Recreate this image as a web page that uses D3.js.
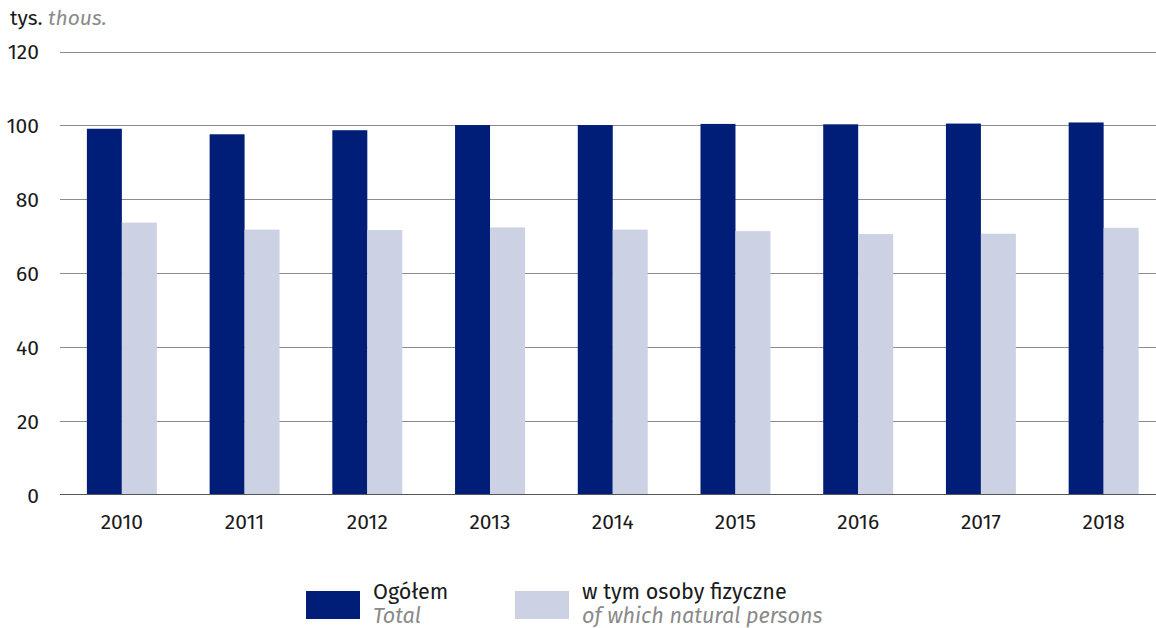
<!DOCTYPE html>
<html><head><meta charset="utf-8">
<script src="https://cdn.jsdelivr.net/npm/d3@7"></script>
<style>
body{margin:0;background:#fff;}
text{font-family:"Fira Sans","Open Sans","Noto Sans",sans-serif;}
</style></head>
<body><svg id="c" width="1156" height="628"></svg>
<script>
const years = ["2010","2011","2012","2013","2014","2015","2016","2017","2018"];
const total = [99.1,97.6,98.7,100.1,100.1,100.4,100.3,100.5,100.8];
const natural = [73.7,71.8,71.7,72.4,71.8,71.4,70.6,70.7,72.3];
const yTicks = [0,20,40,60,80,100,120];
const seriesNames = [["Ogółem","Total"],["w tym osoby fizyczne","of which natural persons"]];
const colors = ["#001d77","#ccd1e4"];
const FS = 21;

const svg = d3.select("#c");
const x = d3.scaleBand().domain(years).range([60.5,1165]).paddingInner(0.43).paddingOuter(0.215);
const y = d3.scaleLinear().domain([0,120]).range([495,51.5]);

svg.append("g").selectAll("line").data(yTicks.filter(d=>d>0)).join("line")
  .attr("x1",60).attr("x2",1156).attr("y1",d=>Math.round(y(d))+0.5).attr("y2",d=>Math.round(y(d))+0.5)
  .attr("stroke","#8c8c8c").attr("stroke-width",1);

svg.append("g").selectAll("text").data(yTicks).join("text")
  .attr("x",39).attr("y",d=>y(d)+7.5).attr("text-anchor","end")
  .attr("font-size",FS).attr("fill","#1a1a1a").text(d=>d);

const bw = x.bandwidth()/2;
const g = svg.append("g");
g.selectAll(".t").data(years).join("rect")
  .attr("x",d=>x(d)).attr("width",bw)
  .attr("y",(d,i)=>y(total[i])).attr("height",(d,i)=>y(0)-y(total[i]))
  .attr("fill",colors[0]);
g.selectAll(".n").data(years).join("rect")
  .attr("x",d=>x(d)+bw).attr("width",bw)
  .attr("y",(d,i)=>y(natural[i])).attr("height",(d,i)=>y(0)-y(natural[i]))
  .attr("fill",colors[1]);

svg.append("line").attr("x1",60).attr("x2",1156).attr("y1",494.5).attr("y2",494.5)
  .attr("stroke","#555").attr("stroke-width",1.2);

svg.append("g").selectAll("text").data(years).join("text")
  .attr("x",d=>x(d)+x.bandwidth()/2).attr("y",529).attr("text-anchor","middle")
  .attr("font-size",FS).attr("fill","#1a1a1a").text(d=>d);

const title = svg.append("text").attr("x",10).attr("y",25).attr("font-size",FS);
title.append("tspan").attr("fill","#1a1a1a").text("tys. ");
title.append("tspan").attr("fill","#8a8a8a").attr("font-style","italic").text("thous.");

const legX = [306,515];
seriesNames.forEach((s,i)=>{
  svg.append("rect").attr("x",legX[i]).attr("y",591).attr("width",54).attr("height",28).attr("fill",colors[i]);
  svg.append("text").attr("x",legX[i]+67).attr("y",599).attr("font-size",21.6).attr("fill","#1a1a1a").text(s[0]);
  svg.append("text").attr("x",legX[i]+67).attr("y",623).attr("font-size",21.6).attr("fill","#8a8a8a").attr("font-style","italic").text(s[1]);
});
</script></body></html>
